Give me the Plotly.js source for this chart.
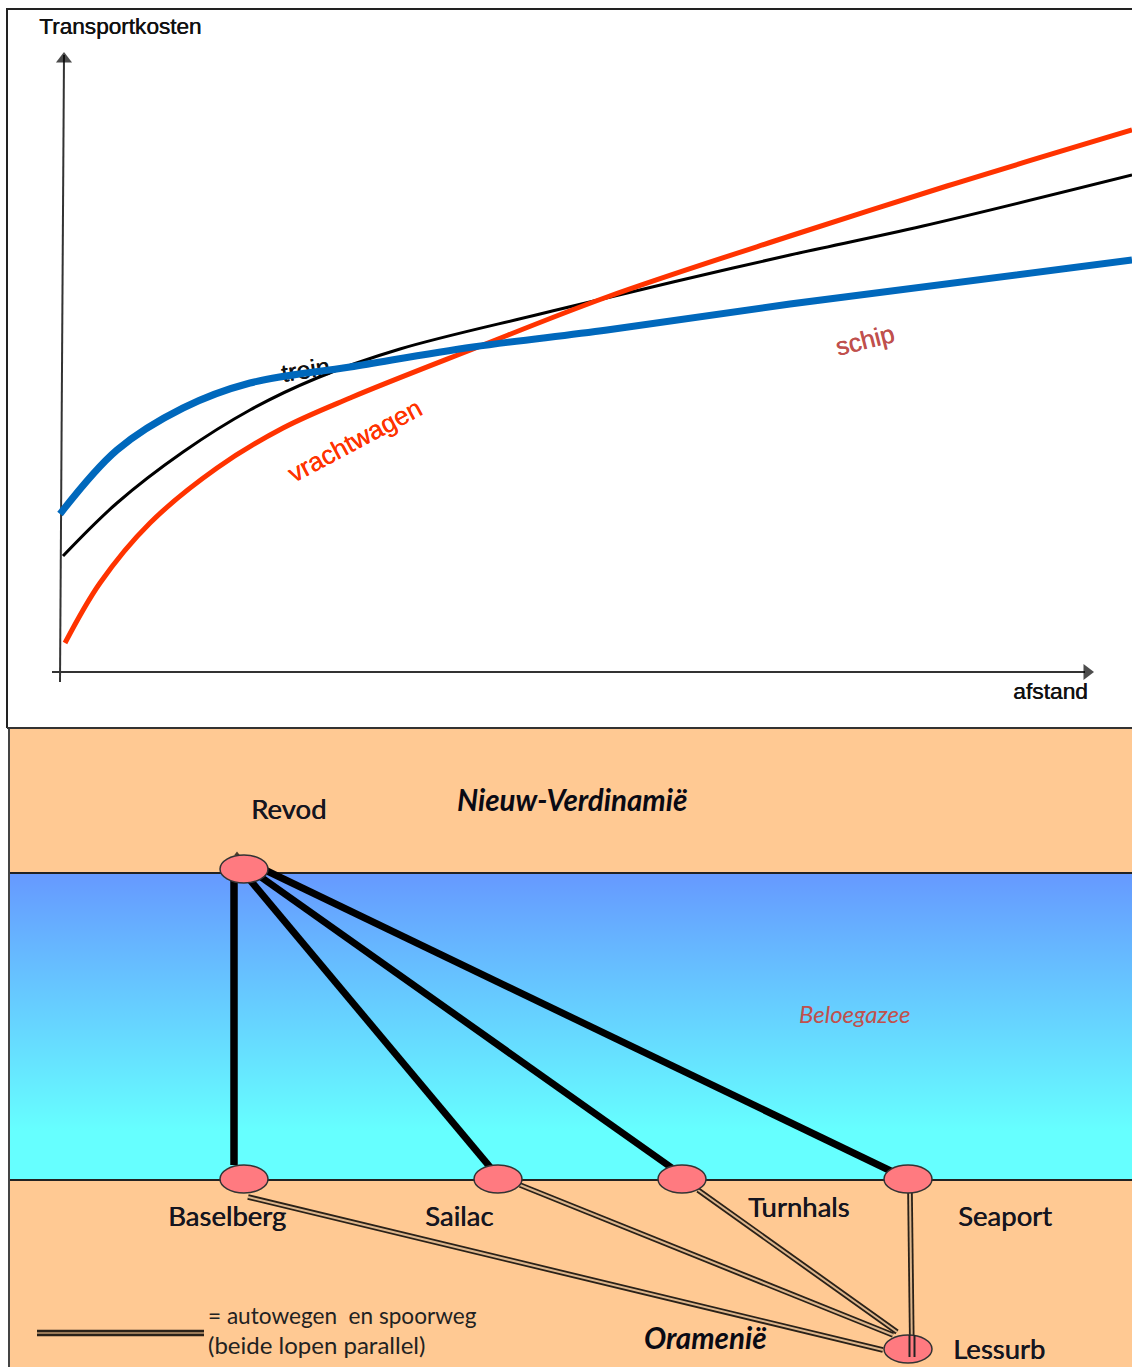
<!DOCTYPE html>
<html><head><meta charset="utf-8">
<script src="https://cdn.plot.ly/plotly-3.0.1.min.js"></script>
<style>html,body{margin:0;padding:0;background:#fff}#g{width:1132px;height:1367px}</style>
</head><body><div id="g"></div>
<script>
// cost curves (in page units)
const truckX=[65,100,150,217,283,350,473,607,790,947,1132];
const truckY=[643,583,523,468,428,398,349,297,236,186,130];
const trainX=[63,117,183,250,317,400,540,673,790,923,1132];
const trainY=[556,503,452,410,378,349,314,282,255,226,175];
const shipX=[60,117,183,250,350,473,607,790,1132];
const shipY=[514,450,408,383,367,347,330,304,260];
const yAxisX=[60,64], yAxisY=[682,55];
const xAxisX=[52,1085], xAxisY=[672,672];
// map
const cityNames=['Revod','Baselberg','Sailac','Turnhals','Seaport','Lessurb'];
const cityX=[244,244,498,682,908,908];
const cityY=[869,1179,1179,1179,1179,1349];
const seaX=[10,1132,1132,10], seaY=[873,873,1180,1180];
const landTopX=[10,1132,1132,10], landTopY=[728,728,873,873];
const landBotX=[10,1132,1132,10], landBotY=[1180,1180,1367,1367];
const seaRoutesX=[[234,234],[250,490],[258,672],[265,893]];
const seaRoutesY=[[880,1165],[880,1167],[875,1168],[870,1172]];
const landRoutesX=[[248,883],[520,893],[698,897],[910,912],[37,204]];
const landRoutesY=[[1197,1350],[1185,1335],[1190,1332],[1193,1357],[1333,1333]];

const sans='"Liberation Sans",Arial,sans-serif', cal='Lato,"Open Sans",sans-serif';
const ln=(x,y,c,w,sh)=>({type:'scatter',mode:'lines',x,y,hoverinfo:'skip',line:{color:c,width:w,shape:sh||'linear',smoothing:1},showlegend:false});
const fillT=(x,y,c)=>({type:'scatter',mode:'lines',x:[...x,x[0]],y:[...y,y[0]],fill:'toself',fillcolor:c,line:{width:0},hoverinfo:'skip',showlegend:false});

const traces=[
  fillT(landTopX,landTopY,'#FFC993'),
  fillT(landBotX,landBotY,'#FFC993'),
  Object.assign(fillT(seaX,seaY,'#6699FF'),{fillgradient:{type:'vertical',colorscale:[[0,'#66FFFF'],[0.16,'#66FFFF'],[1,'#6699FF']]}}),
  ln([10,1132],[873,873],'#222',2), ln([10,1132],[1180,1180],'#222',2),
  ln([9,9],[728,1367],'#444',2),
  ln([7,7,1132],[728,9,9],'#222',2), ln([7,1132],[728,728],'#333',2),
  ln(yAxisX,yAxisY,'#333',2), ln(xAxisX,xAxisY,'#333',2),
  {type:'scatter',mode:'markers',x:[yAxisX[1],xAxisX[1]+2,237],y:[yAxisY[1]+4,xAxisY[1],854],hoverinfo:'skip',showlegend:false,
   marker:{symbol:['triangle-up','triangle-right','triangle-up'],size:[14,14,5],color:'#000',line:{width:0}}},
  ln(trainX,trainY,'#000',3,'spline'),
  ln(truckX,truckY,'#FF3300',5,'spline'),
  ln(shipX,shipY,'#0068BC',7,'spline')
];
seaRoutesX.forEach((x,i)=>traces.push(ln(x,seaRoutesY[i],'#000',i==0?7.5:7)));
landRoutesX.forEach((x,i)=>{traces.push(ln(x,landRoutesY[i],'#2a2118',i==4?6.5:5.6));traces.push(ln(x,landRoutesY[i],i==4?'#9a7a58':'#DDB68C',2));});

const rx=24, ry=14;
const shapes=cityNames.map((n,i)=>({type:'circle',xref:'x',yref:'y',layer:'above',
  x0:cityX[i]-rx,x1:cityX[i]+rx,y0:cityY[i]-ry,y1:cityY[i]+ry,fillcolor:'#FF7A80',line:{color:'#333',width:1.5}}));
// re-draw the Lessurb line ends over its ellipse
shapes.push({type:'line',layer:'above',xref:'x',yref:'y',x0:909.5,x1:909.5,y0:1335,y1:1357,line:{color:'#222',width:2}});
shapes.push({type:'line',layer:'above',xref:'x',yref:'y',x0:914.5,x1:914.5,y0:1335,y1:1357,line:{color:'#222',width:2}});
// label lying under the ship curve
shapes.push({type:'rect',layer:'below',xref:'x',yref:'y',x0:270,x1:340,y0:350,y1:385,line:{width:0},fillcolor:'rgba(0,0,0,0)',
  label:{text:'trein',textangle:-9,textposition:'middle center',font:{family:sans,size:25,color:'#111',weight:400,shadow:'0.4px 0 0 #111'}}});

const note=(text,x,y,o)=>Object.assign({text,x,y,xref:'x',yref:'y',showarrow:false,xanchor:'center',yanchor:'middle',font:{family:cal,size:24,color:'#151520'}},o||{});
const f=(family,size,color,extra)=>Object.assign({family,size,color},extra||{});
const thick=c=>({shadow:'0.5px 0 0 '+c});
const annotations=[
  note('Transportkosten',37,26,{xanchor:'left',font:f(sans,22.6,'#111',thick('#111'))}),
  note('afstand',1011,691,{xanchor:'left',font:f(sans,22.8,'#111',thick('#111'))}),
  note('vrachtwagen',354,441,{textangle:-28,font:f(sans,26,'#FF3300',thick('#FF3300'))}),
  note('schip',865,340,{textangle:-14,font:f(sans,25.5,'#C0504D',thick('#C0504D'))}),
  note('Nieuw-Verdinamië',572,799,{font:f(cal,29.5,'#0a0a14',{weight:700,style:'italic'})}),
  note('Beloegazee',854,1013,{font:f(cal,24,'#C0504D',{style:'italic'})}),
  note('Oramenië',705,1337,{font:f(cal,29.5,'#0a0a14',{weight:700,style:'italic'})}),
  note('= autowegen  en spoorweg',206,1315,{xanchor:'left',font:f(cal,22.6,'#222')}),
  note('(beide lopen parallel)',206,1344,{xanchor:'left',font:f(cal,24,'#222')})
];
const labelX=[288,227,459,798,1005,999], labelY=[808,1215,1215,1206,1215,1348];
cityNames.forEach((n,i)=>annotations.push(note(n,labelX[i],labelY[i],{font:f(cal,27.5,'#151520',thick('#151520'))})));

const hidden={visible:false,fixedrange:true,autorange:false};
Plotly.newPlot('g',traces,{
  width:1132,height:1367,margin:{l:0,r:0,t:0,b:0},showlegend:false,
  paper_bgcolor:'#fff',plot_bgcolor:'#fff',
  xaxis:Object.assign({range:[0,1132]},hidden),
  yaxis:Object.assign({range:[1367,0]},hidden),
  shapes,annotations
},{displayModeBar:false,staticPlot:true});
</script></body></html>
